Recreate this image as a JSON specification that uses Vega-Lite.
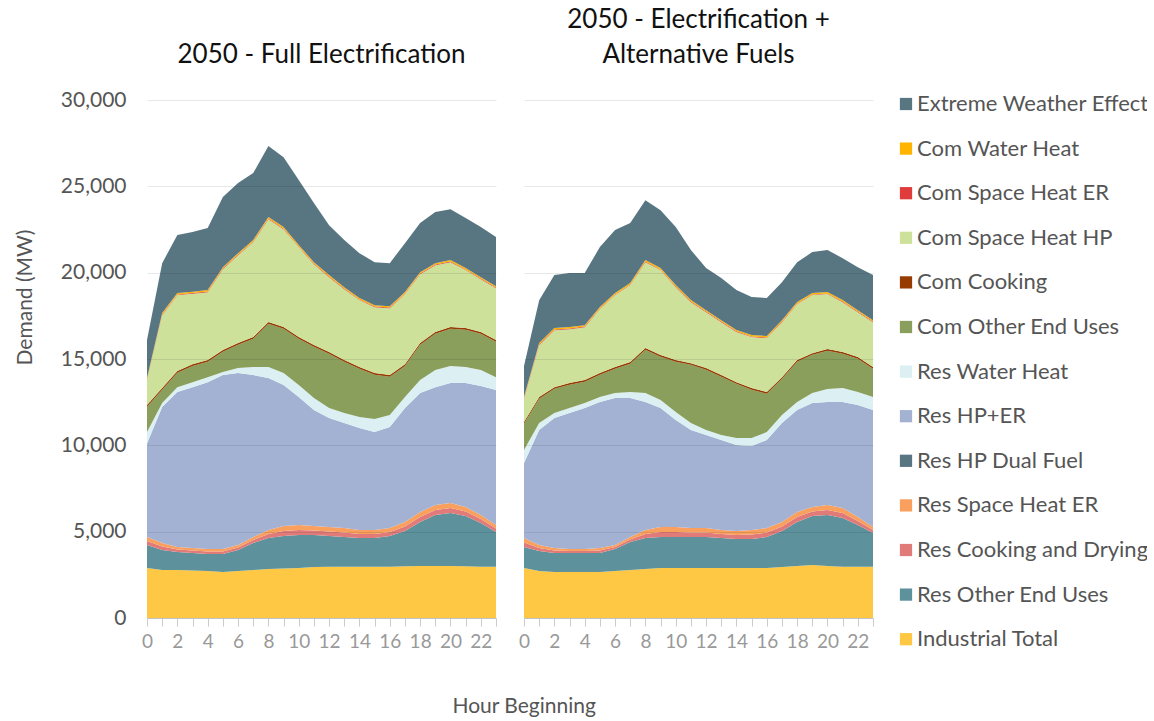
{
  "$schema": "https://vega.github.io/schema/vega-lite/v6.json",
  "background": "white",
  "padding": {"left": 14, "top": 7, "right": 5, "bottom": 5},
  "title": {"text": "Hour Beginning", "orient": "bottom", "anchor": "middle", "fontSize": 21, "fontWeight": "normal", "color": "#555555", "font": "Lato", "offset": 45, "dx": -54},
  "datasets": {
    "cats": [
      {"k": "ind", "Category": "Industrial Total", "ord": 1},
      {"k": "rot", "Category": "Res Other End Uses", "ord": 2},
      {"k": "rck", "Category": "Res Cooking and Drying", "ord": 3},
      {"k": "rse", "Category": "Res Space Heat ER", "ord": 4},
      {"k": "rdf", "Category": "Res HP Dual Fuel", "ord": 5},
      {"k": "rhp", "Category": "Res HP+ER", "ord": 6},
      {"k": "rwh", "Category": "Res Water Heat", "ord": 7},
      {"k": "cot", "Category": "Com Other End Uses", "ord": 8},
      {"k": "cck", "Category": "Com Cooking", "ord": 9},
      {"k": "csh", "Category": "Com Space Heat HP", "ord": 10},
      {"k": "cse", "Category": "Com Space Heat ER", "ord": 11},
      {"k": "cwh", "Category": "Com Water Heat", "ord": 12},
      {"k": "ewe", "Category": "Extreme Weather Effect", "ord": 13}
    ]
  },
  "data": {"values": [
    {"S":"A","Hour":0,"ind":2900,"rot":1330,"rck":230,"rse":230,"rdf":0,"rhp":5410,"rwh":670,"cot":1460,"cck":100,"csh":1450,"cse":40,"cwh":80,"ewe":2200},
    {"S":"A","Hour":1,"ind":2780,"rot":1160,"rck":200,"rse":200,"rdf":0,"rhp":7880,"rwh":230,"cot":770,"cck":100,"csh":4220,"cse":40,"cwh":80,"ewe":2890},
    {"S":"A","Hour":2,"ind":2780,"rot":1040,"rck":145,"rse":145,"rdf":0,"rhp":8980,"rwh":280,"cot":830,"cck":100,"csh":4400,"cse":40,"cwh":80,"ewe":3360},
    {"S":"A","Hour":3,"ind":2750,"rot":1010,"rck":145,"rse":145,"rdf":0,"rhp":9320,"rwh":290,"cot":940,"cck":100,"csh":4080,"cse":40,"cwh":80,"ewe":3450},
    {"S":"A","Hour":4,"ind":2720,"rot":980,"rck":145,"rse":145,"rdf":0,"rhp":9670,"rwh":290,"cot":890,"cck":100,"csh":3930,"cse":40,"cwh":80,"ewe":3590},
    {"S":"A","Hour":5,"ind":2660,"rot":1040,"rck":145,"rse":145,"rdf":0,"rhp":10080,"rwh":170,"cot":1180,"cck":100,"csh":4680,"cse":40,"cwh":80,"ewe":4060},
    {"S":"A","Hour":6,"ind":2720,"rot":1220,"rck":145,"rse":145,"rdf":0,"rhp":9960,"rwh":290,"cot":1340,"cck":100,"csh":5090,"cse":40,"cwh":80,"ewe":4060},
    {"S":"A","Hour":7,"ind":2780,"rot":1560,"rck":175,"rse":175,"rdf":0,"rhp":9380,"rwh":460,"cot":1640,"cck":100,"csh":5500,"cse":40,"cwh":80,"ewe":3880},
    {"S":"A","Hour":8,"ind":2840,"rot":1790,"rck":235,"rse":235,"rdf":0,"rhp":8800,"rwh":630,"cot":2510,"cck":100,"csh":5960,"cse":40,"cwh":80,"ewe":4110},
    {"S":"A","Hour":9,"ind":2870,"rot":1880,"rck":290,"rse":290,"rdf":0,"rhp":8160,"rwh":700,"cot":2560,"cck":100,"csh":5670,"cse":40,"cwh":80,"ewe":4050},
    {"S":"A","Hour":10,"ind":2900,"rot":1910,"rck":285,"rse":285,"rdf":0,"rhp":7420,"rwh":690,"cot":2680,"cck":100,"csh":5210,"cse":40,"cwh":80,"ewe":3760},
    {"S":"A","Hour":11,"ind":2950,"rot":1860,"rck":260,"rse":260,"rdf":0,"rhp":6710,"rwh":700,"cot":2970,"cck":100,"csh":4680,"cse":40,"cwh":80,"ewe":3420},
    {"S":"A","Hour":12,"ind":2970,"rot":1780,"rck":260,"rse":260,"rdf":0,"rhp":6310,"rwh":580,"cot":3140,"cck":100,"csh":4340,"cse":40,"cwh":80,"ewe":2890},
    {"S":"A","Hour":13,"ind":2970,"rot":1720,"rck":260,"rse":260,"rdf":0,"rhp":6080,"rwh":580,"cot":2970,"cck":100,"csh":4100,"cse":40,"cwh":80,"ewe":2730},
    {"S":"A","Hour":14,"ind":2970,"rot":1660,"rck":235,"rse":235,"rdf":0,"rhp":5900,"rwh":640,"cot":2790,"cck":100,"csh":3880,"cse":40,"cwh":80,"ewe":2600},
    {"S":"A","Hour":15,"ind":2970,"rot":1660,"rck":235,"rse":235,"rdf":0,"rhp":5670,"rwh":750,"cot":2570,"cck":100,"csh":3810,"cse":40,"cwh":80,"ewe":2490},
    {"S":"A","Hour":16,"ind":2970,"rot":1780,"rck":230,"rse":230,"rdf":0,"rhp":5850,"rwh":690,"cot":2220,"cck":100,"csh":3870,"cse":40,"cwh":80,"ewe":2490},
    {"S":"A","Hour":17,"ind":2990,"rot":2050,"rck":260,"rse":260,"rdf":0,"rhp":6600,"rwh":640,"cot":1800,"cck":100,"csh":4060,"cse":40,"cwh":80,"ewe":2830},
    {"S":"A","Hour":18,"ind":3010,"rot":2550,"rck":290,"rse":290,"rdf":0,"rhp":6890,"rwh":750,"cot":2040,"cck":100,"csh":3990,"cse":40,"cwh":80,"ewe":2840},
    {"S":"A","Hour":19,"ind":3010,"rot":2950,"rck":290,"rse":290,"rdf":0,"rhp":6830,"rwh":990,"cot":2100,"cck":100,"csh":3870,"cse":40,"cwh":80,"ewe":2960},
    {"S":"A","Hour":20,"ind":3010,"rot":3070,"rck":290,"rse":290,"rdf":0,"rhp":6950,"rwh":980,"cot":2160,"cck":100,"csh":3760,"cse":40,"cwh":80,"ewe":2950},
    {"S":"A","Hour":21,"ind":2990,"rot":2920,"rck":260,"rse":260,"rdf":0,"rhp":7180,"rwh":920,"cot":2160,"cck":100,"csh":3360,"cse":40,"cwh":80,"ewe":2890},
    {"S":"A","Hour":22,"ind":2970,"rot":2530,"rck":230,"rse":230,"rdf":0,"rhp":7470,"rwh":930,"cot":2100,"cck":100,"csh":3060,"cse":40,"cwh":80,"ewe":2900},
    {"S":"A","Hour":23,"ind":2970,"rot":2010,"rck":200,"rse":200,"rdf":0,"rhp":7820,"rwh":750,"cot":2050,"cck":100,"csh":3000,"cse":40,"cwh":80,"ewe":2840},
    {"S":"B","Hour":0,"ind":2895,"rot":1215,"rck":260,"rse":260,"rdf":0,"rhp":4340,"rwh":760,"cot":1520,"cck":100,"csh":1330,"cse":40,"cwh":80,"ewe":1800},
    {"S":"B","Hour":1,"ind":2720,"rot":1160,"rck":175,"rse":175,"rdf":0,"rhp":6660,"rwh":400,"cot":1410,"cck":100,"csh":3000,"cse":40,"cwh":80,"ewe":2480},
    {"S":"B","Hour":2,"ind":2660,"rot":1100,"rck":145,"rse":145,"rdf":0,"rhp":7530,"rwh":290,"cot":1400,"cck":100,"csh":3300,"cse":40,"cwh":80,"ewe":3070},
    {"S":"B","Hour":3,"ind":2660,"rot":1100,"rck":115,"rse":115,"rdf":0,"rhp":7880,"rwh":290,"cot":1350,"cck":100,"csh":3120,"cse":40,"cwh":80,"ewe":3130},
    {"S":"B","Hour":4,"ind":2660,"rot":1100,"rck":115,"rse":115,"rdf":0,"rhp":8170,"rwh":290,"cot":1230,"cck":100,"csh":3060,"cse":40,"cwh":80,"ewe":3020},
    {"S":"B","Hour":5,"ind":2660,"rot":1100,"rck":145,"rse":145,"rdf":0,"rhp":8460,"rwh":290,"cot":1290,"cck":100,"csh":3700,"cse":40,"cwh":80,"ewe":3470},
    {"S":"B","Hour":6,"ind":2720,"rot":1270,"rck":120,"rse":120,"rdf":0,"rhp":8510,"rwh":290,"cot":1400,"cck":100,"csh":4170,"cse":40,"cwh":80,"ewe":3650},
    {"S":"B","Hour":7,"ind":2780,"rot":1620,"rck":145,"rse":145,"rdf":0,"rhp":8050,"rwh":350,"cot":1630,"cck":100,"csh":4460,"cse":40,"cwh":80,"ewe":3470},
    {"S":"B","Hour":8,"ind":2840,"rot":1790,"rck":235,"rse":235,"rdf":0,"rhp":7410,"rwh":520,"cot":2500,"cck":100,"csh":4980,"cse":40,"cwh":80,"ewe":3470},
    {"S":"B","Hour":9,"ind":2895,"rot":1795,"rck":290,"rse":290,"rdf":0,"rhp":6890,"rwh":460,"cot":2510,"cck":100,"csh":4920,"cse":40,"cwh":80,"ewe":3350},
    {"S":"B","Hour":10,"ind":2895,"rot":1795,"rck":290,"rse":290,"rdf":0,"rhp":6190,"rwh":470,"cot":2910,"cck":100,"csh":4220,"cse":40,"cwh":80,"ewe":3360},
    {"S":"B","Hour":11,"ind":2895,"rot":1795,"rck":260,"rse":260,"rdf":0,"rhp":5680,"rwh":400,"cot":3370,"cck":100,"csh":3530,"cse":40,"cwh":80,"ewe":2900},
    {"S":"B","Hour":12,"ind":2895,"rot":1795,"rck":260,"rse":260,"rdf":0,"rhp":5390,"rwh":290,"cot":3490,"cck":100,"csh":3230,"cse":40,"cwh":80,"ewe":2440},
    {"S":"B","Hour":13,"ind":2895,"rot":1735,"rck":235,"rse":235,"rdf":0,"rhp":5210,"rwh":290,"cot":3370,"cck":100,"csh":3060,"cse":40,"cwh":80,"ewe":2440},
    {"S":"B","Hour":14,"ind":2895,"rot":1675,"rck":235,"rse":235,"rdf":0,"rhp":4980,"rwh":400,"cot":3140,"cck":100,"csh":2900,"cse":40,"cwh":80,"ewe":2310},
    {"S":"B","Hour":15,"ind":2895,"rot":1675,"rck":265,"rse":265,"rdf":0,"rhp":4860,"rwh":460,"cot":2800,"cck":100,"csh":2950,"cse":40,"cwh":80,"ewe":2200},
    {"S":"B","Hour":16,"ind":2895,"rot":1795,"rck":260,"rse":260,"rdf":0,"rhp":5100,"rwh":460,"cot":2220,"cck":100,"csh":3120,"cse":40,"cwh":80,"ewe":2200},
    {"S":"B","Hour":17,"ind":2950,"rot":2090,"rck":260,"rse":260,"rdf":0,"rhp":5730,"rwh":460,"cot":2100,"cck":100,"csh":3180,"cse":40,"cwh":80,"ewe":2200},
    {"S":"B","Hour":18,"ind":3010,"rot":2550,"rck":290,"rse":290,"rdf":0,"rhp":5900,"rwh":470,"cot":2330,"cck":100,"csh":3240,"cse":40,"cwh":80,"ewe":2310},
    {"S":"B","Hour":19,"ind":3070,"rot":2840,"rck":260,"rse":260,"rdf":0,"rhp":6020,"rwh":580,"cot":2210,"cck":100,"csh":3360,"cse":40,"cwh":80,"ewe":2370},
    {"S":"B","Hour":20,"ind":3010,"rot":2950,"rck":290,"rse":290,"rdf":0,"rhp":5970,"rwh":750,"cot":2220,"cck":100,"csh":3180,"cse":40,"cwh":80,"ewe":2430},
    {"S":"B","Hour":21,"ind":2970,"rot":2820,"rck":290,"rse":290,"rdf":0,"rhp":6140,"rwh":810,"cot":1980,"cck":100,"csh":2890,"cse":40,"cwh":80,"ewe":2430},
    {"S":"B","Hour":22,"ind":2970,"rot":2410,"rck":235,"rse":235,"rdf":0,"rhp":6480,"rwh":760,"cot":1920,"cck":100,"csh":2600,"cse":40,"cwh":80,"ewe":2490},
    {"S":"B","Hour":23,"ind":2970,"rot":1950,"rck":175,"rse":175,"rdf":0,"rhp":6770,"rwh":760,"cot":1630,"cck":100,"csh":2600,"cse":40,"cwh":80,"ewe":2610}
  ]},
  "transform": [
    {"fold": ["ind","rot","rck","rse","rdf","rhp","rwh","cot","cck","csh","cse","cwh","ewe"], "as": ["k", "MW"]},
    {"lookup": "k", "from": {"data": {"name": "cats"}, "key": "k", "fields": ["Category", "ord"]}}
  ],
  "facet": {
    "column": {
      "field": "S",
      "type": "nominal",
      "title": null,
      "header": {
        "labelExpr": "datum.value == 'A' ? '2050 - Full Electrification' : ['2050 - Electrification +', 'Alternative Fuels']",
        "labelFontSize": 26,
        "labelFont": "Lato",
        "labelColor": "#111111",
        "labelLimit": 0,
        "labelLineHeight": 35,
        "labelBaseline": "bottom",
        "labelPadding": 6
      }
    }
  },
  "spacing": 28,
  "spec": {
    "width": 349,
    "height": 518,
    "mark": {"type": "area", "interpolate": "linear"},
    "encoding": {
      "x": {
        "field": "Hour",
        "type": "quantitative",
        "scale": {"domain": [0, 23], "nice": false, "zero": false},
        "axis": {
          "values": [0,1,2,3,4,5,6,7,8,9,10,11,12,13,14,15,16,17,18,19,20,21,22,23],
          "labelExpr": "datum.value % 2 == 0 ? datum.label : ''",
          "labelFlush": false,
          "labelOverlap": false,
          "grid": false,
          "domainColor": "#d6d6d6",
          "tickColor": "#cccccc",
          "tickSize": 8,
          "labelColor": "#999999",
          "labelFontSize": 19,
          "labelPadding": 6,
          "title": null
        }
      },
      "y": {
        "field": "MW",
        "type": "quantitative",
        "stack": "zero",
        "scale": {"domain": [0, 30000], "nice": false},
        "axis": {
          "values": [0, 5000, 10000, 15000, 20000, 25000, 30000],
          "format": ",d",
          "domain": false,
          "ticks": false,
          "labelFontSize": 21,
          "labelColor": "#555555",
          "labelPadding": 21,
          "gridColor": "#000000",
          "gridOpacity": 0.09,
          "zindex": 1,
          "title": "Demand (MW)",
          "titleFontSize": 21,
          "titleFontWeight": "normal",
          "titleColor": "#555555",
          "titlePadding": 25,
          "titleY": 197
        }
      },
      "color": {
        "field": "Category",
        "type": "nominal",
        "scale": {
          "domain": ["Extreme Weather Effect","Com Water Heat","Com Space Heat ER","Com Space Heat HP","Com Cooking","Com Other End Uses","Res Water Heat","Res HP+ER","Res HP Dual Fuel","Res Space Heat ER","Res Cooking and Drying","Res Other End Uses","Industrial Total"],
          "range": ["#587682","#ffb400","#e03c3c","#cde19b","#963c00","#8a9f5c","#dcf0f4","#a3b1d3","#587682","#f9a05e","#e07b79","#5d929d","#fec844"]
        },
        "legend": {
          "title": null,
          "symbolType": "square",
          "symbolSize": 150,
          "symbolStrokeWidth": 0,
          "symbolOpacity": 1,
          "labelFontSize": 22,
          "labelColor": "#555555",
          "labelLimit": 300,
          "labelOffset": 0,
          "rowPadding": 22.6,
          "padding": -7,
          "offset": 28
        }
      },
      "order": {"field": "ord", "type": "quantitative", "sort": "ascending"}
    }
  },
  "config": {
    "font": "Lato",
    "view": {"stroke": null},
    "area": {"opacity": 1}
  }
}
